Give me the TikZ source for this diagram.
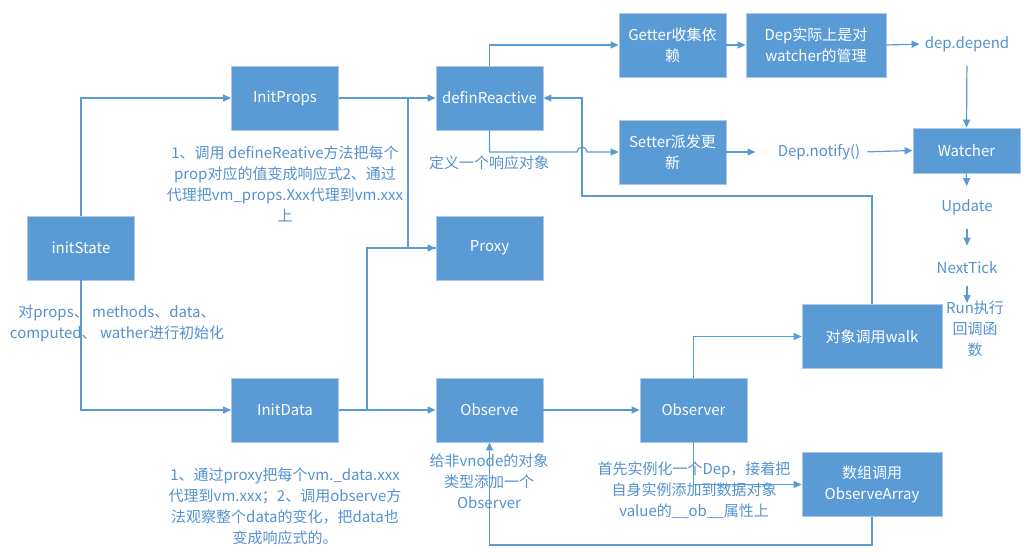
\documentclass[tikz,border=0pt]{standalone}
\usepackage{fontspec}
\setmainfont{Noto Sans CJK SC}
\usetikzlibrary{arrows.meta}
\definecolor{boxblue}{RGB}{91,155,213}
\definecolor{edgeblue}{RGB}{172,198,233}
\definecolor{lineblue}{RGB}{91,155,213}
\definecolor{noteblue}{RGB}{84,145,206}

\begin{document}
\begin{tikzpicture}[x=1pt, y=-1pt]
    \tikzstyle{box} = [shape=rectangle, draw=edgeblue, fill=boxblue, line width=0.8pt, text=white, align=center, inner sep=0pt, minimum width=107pt, minimum height=64pt, font=\fontsize{15}{21}\selectfont]
    \tikzstyle{wide} = [box, minimum width=140pt]
    \tikzstyle{note} = [text=noteblue, align=center, inner sep=2pt, font=\fontsize{15}{21}\selectfont]
    \tikzstyle{link} = [draw=lineblue, line width=1.2pt]
    \tikzstyle{arr} = [link, -{Triangle[length=8pt, width=7pt]}]

    \useasboundingbox (0,0) rectangle (1024,556);

    % 方框
    \path   (81,248) node [box, name=initState] {initState}
            (285,98) node [box, name=InitProps] {InitProps}
            (285,410) node [box, name=InitData] {InitData}
            (489.5,98) node [box, name=definReactive] {definReactive}
            (489.5,248) node [box, name=Proxy] {Proxy}
            (489.5,410) node [box, name=Observe] {Observe}
            (672.5,45) node [box, name=Getter] {Getter收集依\\赖}
            (672.5,152) node [box, name=Setter] {Setter派发更\\新}
            (816,45) node [wide, name=Dep] {Dep实际上是对\\watcher的管理}
            (966.5,150.5) node [box, minimum height=45pt, name=Watcher] {Watcher}
            (693.5,410) node [box, name=Observer] {Observer}
            (872,336.5) node [wide, name=walk] {对象调用walk}
            (872,484.5) node [wide, name=ObserveArray] {数组调用\\ObserveArray};

    % 文字
    \path   (967,44) node [note, name=depDepend] {dep.depend}
            (819,152) node [note, name=depNotify] {Dep.notify()}
            (967,207) node [note, name=Update] {Update}
            (967,268) node [note, name=NextTick] {NextTick}
            (975,329) node [note, name=runNote] {Run执行\\回调函\\数}
            (285,184) node [note, name=propsNote] {1、调用 defineReative方法把每个\\prop对应的值变成响应式2、通过\\代理把vm\_props.Xxx代理到vm.xxx\\上}
            (117,323) node [note, name=stateNote] {对props、 methods、data、\\computed、 wather进行初始化}
            (285,506) node [note, name=dataNote] {1、通过proxy把每个vm.\_data.xxx\\代理到vm.xxx；2、调用observe方\\法观察整个data的变化，把data也\\变成响应式的。}
            (489,163) node [note, name=reactNote] {定义一个响应对象}
            (489,481) node [note, name=observeNote] {给非vnode的对象\\类型添加一个\\Observer}
            (694,490) node [note, name=observerNote] {首先实例化一个Dep，接着把\\自身实例添加到数据对象\\value的\_\_ob\_\_属性上};

    \coordinate (propsFork) at (408,98);
    \coordinate (dataFork) at (367,410);
    \coordinate (hop) at (582,152);
    \coordinate (back) at (582,196);
    \coordinate (loopBase) at (680,545);
    \coordinate (runTop) at (967,303);

    % 连线
    \draw [arr] (initState.north) |- (InitProps.west);
    \draw [arr] (initState.south) |- (InitData.west);
    \draw [arr] (InitProps.east) -- (definReactive.west);
    \draw [arr] (propsFork) |- (Proxy.west);
    \draw [link] (dataFork) |- (Proxy.west);
    \draw [arr] (InitData.east) -- (Observe.west);
    \draw [arr] (definReactive.north) |- (Getter.west);
    \draw [arr] (definReactive.south) |- ([xshift=-5pt]hop) arc [start angle=180, end angle=0, radius=5pt] -- (Setter.west);
    \draw [arr] (Getter.east) -- (Dep.west);
    \draw [arr, shorten >=3pt] (Dep.east) -- (depDepend.west);
    \draw [arr, shorten <=12pt] (depDepend.south) -- (Watcher.north);
    \draw [arr, shorten >=20pt] (Setter.east) -- (depNotify.west);
    \draw [arr, shorten <=5pt] (depNotify.east) -- (Watcher.west);
    \draw [arr, shorten >=11pt] (Watcher.south) -- (Update.north);
    \draw [arr, shorten <=12pt, shorten >=14pt] (Update.south) -- (NextTick.north);
    \draw [arr, shorten <=10pt] (NextTick.south) -- (runTop);
    \draw [arr] (walk.north) |- (back) |- (definReactive.east);
    \draw [arr] (Observe.east) -- (Observer.west);
    \draw [arr] (Observer.north) |- (walk.west);
    \draw [arr] (Observer.south) |- (ObserveArray.west);
    \draw [arr] (ObserveArray.south) |- (loopBase) -| (Observe.south);
\end{tikzpicture}
\end{document}
